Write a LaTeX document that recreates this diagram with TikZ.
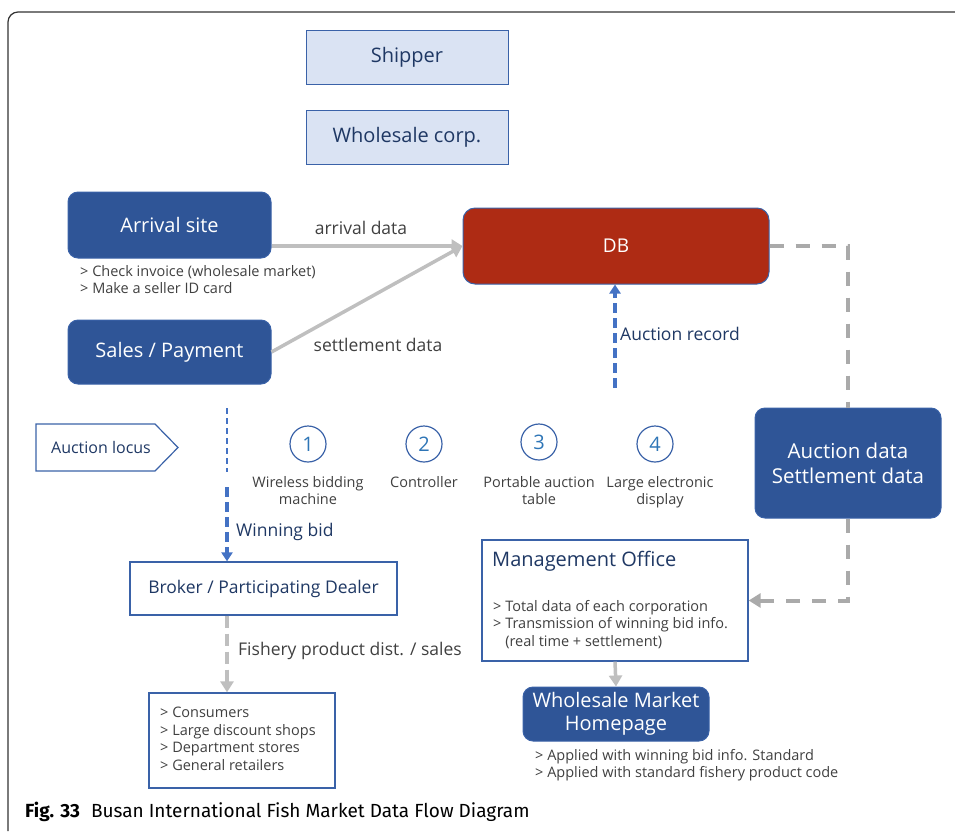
\documentclass[tikz,border=0pt]{standalone}
\usepackage{fontspec}
\setmainfont{Open Sans}
\newfontfamily\capfont{Fira Sans}
\usetikzlibrary{arrows.meta}
\definecolor{mainblue}{HTML}{2F5597}
\definecolor{bordblue}{HTML}{3A62A8}
\definecolor{lightfill}{HTML}{DAE3F3}
\definecolor{navy}{HTML}{1F3864}
\definecolor{numblue}{HTML}{2E75B6}
\definecolor{dbred}{HTML}{AE2B14}
\definecolor{arrgray}{HTML}{BFBFBF}
\definecolor{dashgray}{HTML}{AAAAAA}
\definecolor{notegray}{HTML}{404040}
\definecolor{dashblue}{HTML}{4472C4}
\begin{document}
\begin{tikzpicture}[x=1pt,y=-1pt,
  lightbox/.style={draw=bordblue, line width=1pt, fill=lightfill, text=navy,
    font=\fontsize{20}{22}\selectfont, minimum width=202, minimum height=54, inner sep=0},
  bluebox/.style={draw=bordblue, line width=1pt, fill=mainblue, rounded corners=10, text=white,
    font=\fontsize{20}{24}\selectfont, inner sep=0, align=center},
  whitebox/.style={draw=bordblue, line width=1.3pt, fill=white, inner sep=0},
  notetxt/.style={font=\fontsize{14.5}{17.5}\selectfont, text=notegray, anchor=north west, align=left, inner sep=0},
  lbl/.style={font=\fontsize{17.5}{20}\selectfont, inner sep=0},
  grayarrow/.style={draw=arrgray, line width=3.5, -{Triangle[length=11,width=13]}},
  graydash/.style={draw=dashgray, line width=4, dash pattern=on 14 off 12},
  bluedash/.style={draw=dashblue, line width=3.5, dash pattern=on 10 off 5},
  numcircle/.style={circle, draw=bordblue, line width=1.2, minimum size=36, inner sep=0,
    text=numblue, font=\fontsize{20}{22}\selectfont},
  circlbl/.style={font=\fontsize{14.5}{17}\selectfont, text=notegray, align=center, anchor=north, inner sep=0}
]
\useasboundingbox (0,0) rectangle (955,831);
% frame
\draw[line width=1.2, draw=black!80, rounded corners=10] (955,12) -- (8,12) -- (8,831);

% top boxes
\node[lightbox] (ship) at (407,57) {Shipper};
\node[lightbox] (wcorp) at (407,137) {Wholesale corp.};

% left blue boxes
\node[bluebox, minimum width=203, minimum height=66] (arr) at (169.5,225) {Arrival site};
\node[notetxt] (arrnote) at (80,265) {> Check invoice (wholesale market)\\> Make a seller ID card};
\node[bluebox, minimum width=203, minimum height=64] (sales) at (169.5,352) {Sales / Payment};

% DB
\node[draw=bordblue, line width=1pt, fill=dbred, rounded corners=12, text=white,
  font=\fontsize{19}{22}\selectfont, minimum width=306, minimum height=76, inner sep=0] (db) at (616,246) {DB};

% arrows into DB
\draw[grayarrow] (arr.east |- db.west) -- (db.west);
\draw[grayarrow] (sales.east) -- (db.west);
\node[lbl, text=notegray] (arrlbl) at (361,228) {arrival data};
\node[lbl, text=notegray] (setlbl) at (378,345) {settlement data};

% auction data box
\node[bluebox, minimum width=186, minimum height=110, font=\fontsize{20.5}{25}\selectfont] (aucdata) at (848,463) {Auction data\\Settlement data};

% management office
\node[whitebox, minimum width=266, minimum height=121] (mgmt) at (615,600.5) {};
\node[anchor=west, inner sep=0, text=navy, font=\fontsize{20}{22}\selectfont] (mgmttitle) at (492,561) {Management Office};
\node[notetxt] (mgmtnote) at (493,600) {> Total data of each corporation\\> Transmission of winning bid info.\\\hphantom{> }(real time + settlement)};

% homepage
\node[bluebox, minimum width=186, minimum height=54, font=\fontsize{20}{23}\selectfont] (home) at (616,714) {Wholesale Market\\Homepage};
\node[notetxt] (homenote) at (535,749) {> Applied with winning bid info. Standard\\> Applied with standard fishery product code};

% dashed connectors from DB
\draw[graydash] (db.east) -| (aucdata.north);
\draw[graydash, -{Triangle[length=12,width=14]}] (aucdata.south) |- (mgmt.east);
\draw[grayarrow] (mgmt.south) -- (home.north);

% auction record
\coordinate (arstart) at (615,388);
\draw[bluedash, -{Triangle[length=9,width=11]}] (arstart) -- (arstart |- db.south);
\node[lbl, text=navy, anchor=west] (arlbl) at (620,334) {Auction record};

% auction locus
\draw[draw=bordblue, line width=1.2] (36,424) -- (155,424) -- (178,447.5) -- (155,471) -- (36,471) -- cycle;
\node[inner sep=0, text=navy, font=\fontsize{16}{18}\selectfont] (locus) at (101,447.5) {Auction locus};

% circles
\node[numcircle] (c1) at (308,444) {1};
\node[numcircle] (c2) at (424,444) {2};
\node[numcircle] (c3) at (539,442) {3};
\node[numcircle] (c4) at (655,444) {4};
\node[circlbl] (l1) at (308,476) {Wireless bidding\\machine};
\node[circlbl] (l2) at (424,476) {Controller};
\node[circlbl] (l3) at (539,476) {Portable auction\\table};
\node[circlbl] (l4) at (660,476) {Large electronic\\display};

% broker
\node[whitebox, minimum width=267, minimum height=53, text=navy, font=\fontsize{17.5}{20}\selectfont] (broker) at (263.5,588.5) {Broker / Participating Dealer};

% winning bid
\coordinate (wb1) at (227,408);
\coordinate (wb2) at (227,472);
\coordinate (wb3) at (227,487);
\draw[draw=dashblue, line width=1.4, dash pattern=on 6 off 4] (wb1) -- (wb2);
\draw[bluedash, -{Triangle[length=9,width=11]}] (wb3) -- (wb3 |- broker.north);
\node[lbl, text=navy, anchor=west] (wblbl) at (236,532) {Winning bid};

% consumers
\node[whitebox, minimum width=186, minimum height=95] (cons) at (242,740.5) {};
\node[notetxt] (consnote) at (160,707) {> Consumers\\> Large discount shops\\> Department stores\\> General retailers};
\draw[draw=arrgray, line width=3.5, dash pattern=on 12 off 6, -{Triangle[length=11,width=13]}] (broker.south -| wb1) -- (cons.north -| wb1);
\node[lbl, text=notegray, anchor=west] (fslbl) at (238,651) {Fishery product dist. / sales};

% caption
\node[anchor=base west, inner sep=0, font=\capfont\fontsize{19}{22}\selectfont] (cap) at (25,817) {\textbf{Fig. 33}\hspace{11pt}Busan International Fish Market Data Flow Diagram};
\end{tikzpicture}
\end{document}
